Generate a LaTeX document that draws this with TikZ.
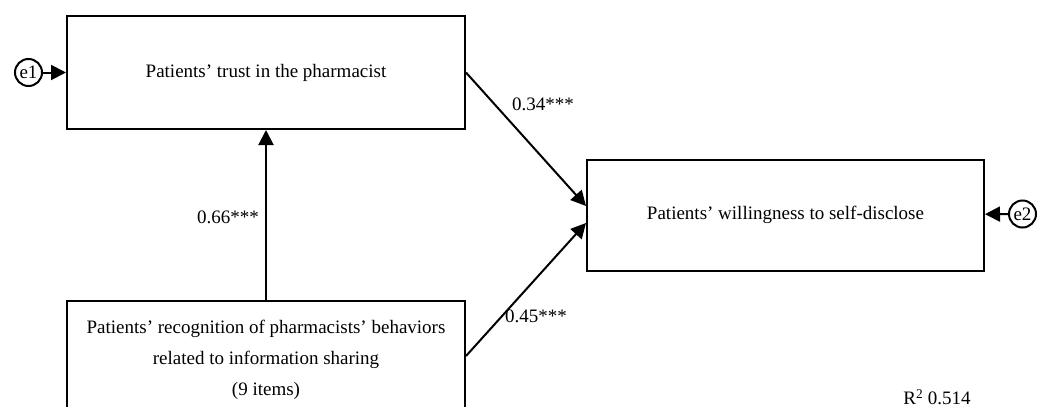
\documentclass[tikz,border=0pt]{standalone}
\usepackage{fontspec}
\setmainfont{Liberation Serif}
\usetikzlibrary{positioning, arrows.meta}

\tikzset{
  box/.style={draw, rectangle, minimum width=398pt, minimum height=113pt,
    align=center, font=\fontsize{19}{31}\selectfont},
  err/.style={draw, circle, inner sep=0pt, minimum size=27pt,
    font=\fontsize{19}{19}\selectfont},
  coef/.style={font=\fontsize{19}{19}\selectfont}
}

\begin{document}
\begin{tikzpicture}[x=1pt, y=-1pt, ->, >={Triangle[length=15pt, width=15pt]}, line width=2pt]
      \clip (0, 0) rectangle (1047, 407);
      \node[box] (trust) at (266, 72.5) {Patients’ trust in the pharmacist};
      \node[box, minimum width=397pt, minimum height=111pt] (willing) at (785.5, 215) {Patients’ willingness to self-disclose};
      \node[box, minimum height=118pt] (recog) at (266, 360) {Patients’ recognition of pharmacists’ behaviors\\related to information sharing\\(9 items)};
      \node[err] (e1) at (28.5, 72.5) {e1};
      \node[err] (e2) at (1022.5, 214) {e2};
      \draw [->] (e1) -- (trust);
      \draw [->] (e2) -- (willing);
      \draw [->] (recog) -- (trust);
      \draw [->] (trust.east) -- ([yshift=9pt]willing.west);
      \draw [->] ([yshift=4pt]recog.east) -- ([yshift=-8pt]willing.west);
      \node[coef] (b1) at (543, 104) {0.34***};
      \node[coef] (b2) at (228, 217) {0.66***};
      \node[coef] (b3) at (536, 316) {0.45***};
      \node[coef] (rsq) at (937, 397) {R\textsuperscript{2} 0.514};
  \end{tikzpicture}
\end{document}
